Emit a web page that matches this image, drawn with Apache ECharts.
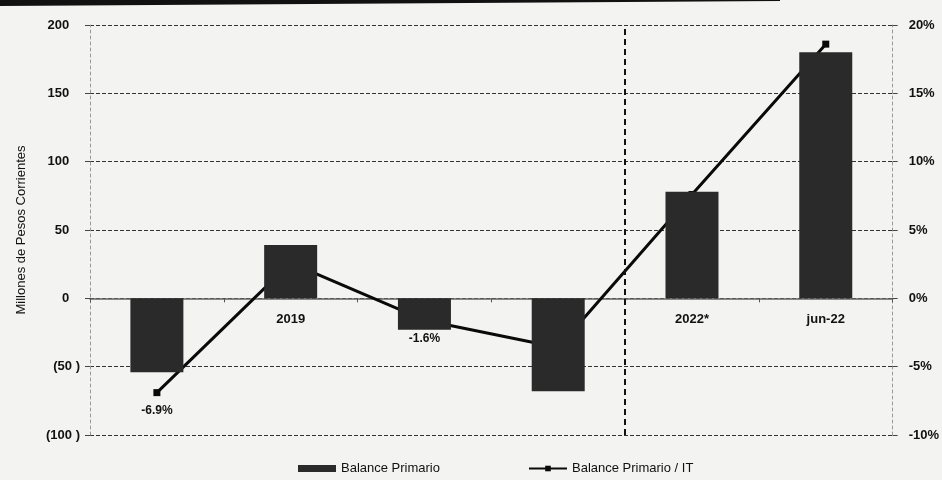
<!DOCTYPE html>
<html>
<head>
<meta charset="utf-8">
<script src="https://cdn.jsdelivr.net/npm/echarts@6/dist/echarts.min.js"></script>
<style>html,body{margin:0;padding:0;background:#f3f3f2}#c{width:942px;height:480px}</style>
</head>
<body>
<div id="c"></div>
<script>
const categories = ['2018', '2019', '2020', '2021', '2022*', 'jun-22'];
const balancePrimario = [-54, 39, -23, -68, 78, 180];
const balanceIT = [-6.9, 2.6, -1.6, -3.6, 7.6, 18.6];
const leftTicks = { min: -100, max: 200, step: 50 };
const rightTicks = { min: -10, max: 20, step: 5 };
const dividerPosition = 4; // boundary between 2021 and 2022*

const GRID = { left: 90, right: 47, top: 25, bottom: 45 };
const plotHeight = 480 - GRID.top - GRID.bottom;
const zeroOffset = -plotHeight * (0 - leftTicks.min) / (leftTicks.max - leftTicks.min);

const FONT = '"Liberation Sans Narrow", "Liberation Sans", Arial, sans-serif';
const chart = echarts.init(document.getElementById('c'));
chart.setOption({
  backgroundColor: '#f3f3f2',
  animation: false,
  textStyle: { fontFamily: FONT },
  graphic: [{
    type: 'polygon', silent: true, z: 100,
    shape: { points: [[0, 0], [780, 0], [780, 1], [0, 6]] },
    style: { fill: '#111' }
  }],
  legend: {
    bottom: 0, left: 293, itemGap: 88, itemWidth: 38, itemHeight: 7,
    textStyle: { fontFamily: FONT, fontSize: 13, color: '#111' },
    data: [
      { name: 'Balance Primario', icon: 'rect' },
      { name: 'Balance Primario / IT' }
    ]
  },
  grid: GRID,
  xAxis: [{
    type: 'category', data: categories, boundaryGap: true,
    offset: zeroOffset,
    axisLine: { onZero: false, lineStyle: { color: '#666', width: 1.5 } },
    axisTick: { show: true, length: 4, lineStyle: { color: '#555' } },
    axisLabel: { margin: 15, fontSize: 13, fontWeight: 'bold', color: '#111', fontFamily: FONT },
    splitLine: { show: false }
  }, {
    type: 'value', min: 0, max: categories.length, show: false
  }],
  yAxis: [{
    type: 'value', min: leftTicks.min, max: leftTicks.max, interval: leftTicks.step,
    name: 'Millones de Pesos Corrientes', nameLocation: 'middle', nameGap: 62, nameRotate: 90,
    nameTextStyle: { fontSize: 13, color: '#111', fontFamily: FONT },
    axisLine: { show: true, lineStyle: { color: '#999', type: [3, 3], width: 1 } },
    axisTick: { show: true, length: 5, lineStyle: { color: '#444' } },
    axisLabel: {
      margin: 10, fontSize: 13, fontWeight: 'bold', color: '#111', fontFamily: FONT,
      formatter: function (v) { return v < 0 ? '(' + Math.abs(v) + ' )' : v + '   '; }
    },
    splitLine: { show: true, lineStyle: { color: '#333', type: [4, 2], width: 1 } }
  }, {
    type: 'value', min: rightTicks.min, max: rightTicks.max, interval: rightTicks.step,
    position: 'right',
    axisLine: { show: true, lineStyle: { color: '#999', type: [3, 3], width: 1 } },
    axisTick: { show: true, length: 5, lineStyle: { color: '#444' } },
    axisLabel: {
      margin: 16, fontSize: 13, fontWeight: 'bold', color: '#111', fontFamily: FONT,
      formatter: function (v) { return v + '%'; }
    },
    splitLine: { show: false }
  }],
  series: [{
    name: 'Balance Primario / IT', type: 'line', data: balanceIT, yAxisIndex: 1,
    z: 2, symbol: 'rect', symbolSize: 7,
    lineStyle: { color: '#0a0a0a', width: 3 },
    itemStyle: { color: '#0a0a0a' },
    label: {
      show: true, position: 'bottom', distance: 9,
      fontSize: 12, fontWeight: 'bold', color: '#111', fontFamily: FONT,
      formatter: function (p) { return p.value.toFixed(1) + '%'; }
    }
  }, {
    name: 'Balance Primario', type: 'bar', data: balancePrimario, yAxisIndex: 0,
    barWidth: 53, z: 3,
    itemStyle: { color: '#2a2a2a' }
  }, {
    name: 'divider', type: 'scatter', xAxisIndex: 1, yAxisIndex: 0, data: [],
    silent: true,
    markLine: {
      silent: true, symbol: 'none', label: { show: false },
      lineStyle: { color: '#111', width: 2, type: [6, 4] },
      data: [{ xAxis: dividerPosition }]
    }
  }]
});
</script>
</body>
</html>
